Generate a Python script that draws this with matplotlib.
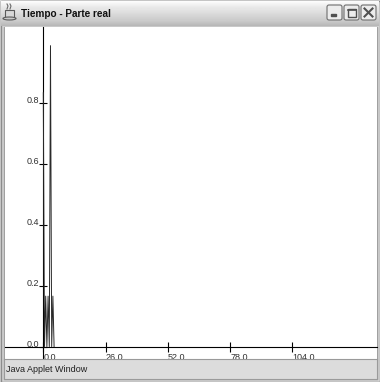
import numpy as np
import matplotlib.pyplot as plt
from matplotlib.patches import Rectangle, FancyBboxPatch, Ellipse

# tamaño de la ventana en pixeles
W, H = 380, 382

# muestras de la señal (parte real en el dominio del tiempo)
tiempo = [0.0, 0.5, 1.0, 1.5, 2.0, 2.5, 3.0, 3.5, 4.0, 4.5]
parte_real = [0.835, 0.0, 0.166, 0.0, 0.166, 0.0, 0.99, 0.0, 0.166, 0.0]

ticks_x = [0.0, 26.0, 52.0, 78.0, 104.0]
ticks_y = [0.0, 0.2, 0.4, 0.6, 0.8]
titulo = "Tiempo - Parte real"
barra_estado = "Java Applet Window"

plt.rcParams["font.family"] = ["Liberation Sans", "DejaVu Sans"]

fig = plt.figure(figsize=(W / 100, H / 100), dpi=100)


def px_axes(x0, y0, x1, y1):
    # ejes ubicados en pixeles, y contado desde arriba
    return fig.add_axes([x0 / W, 1 - y1 / H, (x1 - x0) / W, (y1 - y0) / H])


# ---- marco de la ventana ----
bg = fig.add_axes([0, 0, 1, 1])
bg.set_xlim(0, W)
bg.set_ylim(H, 0)
bg.axis("off")

bg.add_patch(Rectangle((0, 0), W, H, color="#d4d4d4", zorder=0))
bg.add_patch(Rectangle((0.5, 0.5), W - 1, H - 1, fill=False, ec="#8c8c8c", lw=1, zorder=1))
bg.add_patch(Rectangle((3.5, 26.5), W - 7, H - 30, fill=False, ec="#a0a0a0", lw=1, zorder=1))

# barra de titulo con degradado
grad = np.concatenate([np.linspace(0.99, 0.90, 8), np.linspace(0.90, 0.80, 12),
                       np.linspace(0.80, 0.72, 6)])[:, None]
bg.imshow(grad, extent=(1, W - 1, 26, 1), aspect="auto", cmap="gray",
          vmin=0, vmax=1, zorder=2, interpolation="bilinear")

# icono de la taza
bg.add_patch(Rectangle((5, 10), 9, 8, fc="#d8d8d8", ec="#5a5a5a", lw=0.8, zorder=3))
bg.add_patch(Ellipse((9.5, 18.5), 13, 3, fc="#c8c8c8", ec="#5a5a5a", lw=0.8, zorder=3))
bg.plot([7, 8, 7], [9, 6, 4], color="#6a6a6a", lw=0.8, zorder=3)
bg.plot([10, 11, 10], [9, 6, 4], color="#6a6a6a", lw=0.8, zorder=3)
bg.text(21, 14, titulo, fontsize=7.2, fontweight="bold", color="#101010",
        ha="left", va="center", zorder=3)

# botones minimizar / maximizar / cerrar
for i, bx in enumerate([327, 344, 361]):
    bg.add_patch(FancyBboxPatch((bx, 5), 15, 15, boxstyle="round,pad=0,rounding_size=2",
                                fc="#ececec", ec="#6e6e6e", lw=0.8, zorder=3))
    if i == 0:
        bg.add_patch(Rectangle((bx + 4, 14), 5, 2, color="#505050", zorder=4))
    elif i == 1:
        bg.add_patch(Rectangle((bx + 3.5, 8.5), 8, 8, fill=False, ec="#505050", lw=1, zorder=4))
        bg.plot([bx + 3.5, bx + 11.5], [9.5, 9.5], color="#505050", lw=1.2, zorder=4)
    else:
        bg.plot([bx + 3.5, bx + 11.5], [8.5, 16.5], color="#505050", lw=1.5, zorder=4)
        bg.plot([bx + 3.5, bx + 11.5], [16.5, 8.5], color="#505050", lw=1.5, zorder=4)

# ---- area del grafico ----
ax = px_axes(5, 27, 377, 360)
ax.set_facecolor("white")
px_por_x = 2.396
px_por_y = 304.0
x0_px, y0_px = 43.3, 346.6
ax.set_xlim((5 - x0_px) / px_por_x, (377 - x0_px) / px_por_x)
ax.set_ylim((y0_px - 360) / px_por_y, (y0_px - 27) / px_por_y)

ax.plot(tiempo, parte_real, color="#2a2a2a", lw=0.7, zorder=3)

for s in ["top", "right"]:
    ax.spines[s].set_visible(False)
ax.spines["left"].set_position(("data", 0))
ax.spines["bottom"].set_position(("data", 0))
for s in ["left", "bottom"]:
    ax.spines[s].set_color("#000000")
    ax.spines[s].set_linewidth(0.8)

ax.set_xticks(ticks_x)
ax.set_xticklabels([f"{v:.1f}" for v in ticks_x])
ax.set_yticks(ticks_y)
ax.set_yticklabels([f"{v:.1f}" for v in ticks_y])
ax.tick_params(axis="both", direction="inout", width=0.8, color="#000000",
               labelsize=6.5, labelcolor="#303030")
ax.tick_params(axis="x", length=6.5, pad=1.0)
ax.tick_params(axis="y", length=5.8, pad=0.3)
for lab in ax.get_xticklabels():
    lab.set_horizontalalignment("left")
for lab in ax.get_yticklabels():
    lab.set_verticalalignment("baseline")

# ---- barra de estado ----
st = px_axes(4, 359, 377, 379)
st.set_xlim(0, 1)
st.set_ylim(0, 1)
st.set_xticks([])
st.set_yticks([])
st.set_facecolor("#dcdcdc")
for s in st.spines.values():
    s.set_color("#9a9a9a")
    s.set_linewidth(0.8)
st.text(0.005, 0.45, barra_estado, fontsize=6.5, color="#202020",
        ha="left", va="center", transform=st.transAxes)

fig.savefig("out.png", dpi=100)
